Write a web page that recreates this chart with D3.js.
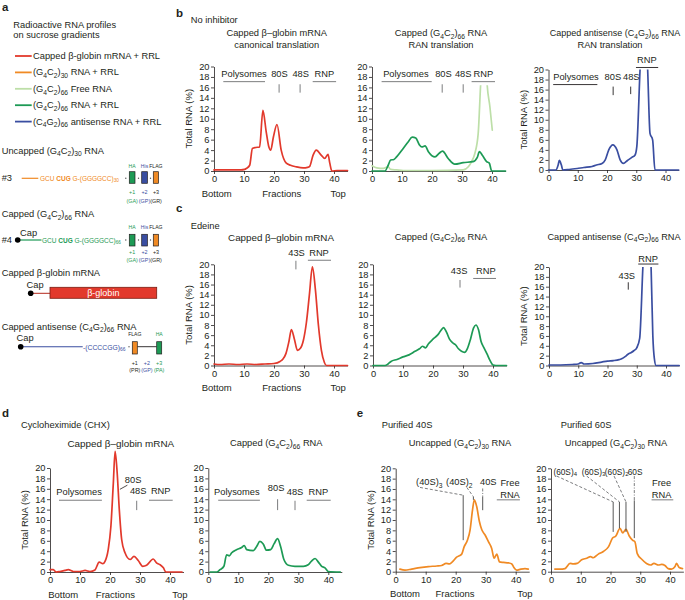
<!DOCTYPE html>
<html><head><meta charset="utf-8">
<script src="https://cdn.jsdelivr.net/npm/d3@7"></script>
<style>
body{margin:0;background:#fff}
svg{display:block}
text{font-family:"Liberation Sans",Arial,Helvetica,sans-serif}
</style>
</head><body>
<svg id="fig" width="685" height="600"></svg>
<script>
// ---------------- DATA ----------------
const xTicks = [0, 10, 20, 30, 40];
const yTicks = [0, 2, 4, 6, 8, 10, 12, 14, 16, 18, 20];
const X_MAX = 44.5;

const legendLabels = ["Capped β-globin mRNA + RRL", "(G_{4}C_{2})_{30} RNA + RRL", "(G_{4}C_{2})_{66} Free RNA", "(G_{4}C_{2})_{66} RNA + RRL", "(C_{4}G_{2})_{66} antisense RNA + RRL"];

// b: no inhibitor  [fraction, % total RNA]
const noInhGlobin = [[0,0.2],[3,0.2],[6,0.2],[9,0.2],[10.2,0.3],[10.8,0.5],[11.9,1.1],[12.8,4.3],[13.9,4.5],[15.2,4.6],[16.3,11.6],[17.4,7.5],[18.2,4.8],[18.9,4.0],[19.8,6.5],[21,8.9],[22.4,4.0],[24.1,1.5],[25.5,1.1],[27.4,0.8],[29.7,0.6],[31.2,0.7],[31.9,0.9],[33,3.0],[34.1,4.0],[35.8,3.0],[36.9,2.4],[38,3.2],[38.6,1.5],[39.3,0],[41,0.1],[44.5,0.1]];
const noInhG4C2 = [[0,0],[4.3,0],[5.4,1.1],[6.2,2.1],[7.3,2.2],[8.2,2.7],[10.4,4.3],[12.1,5.6],[13.4,6.5],[14.6,6.3],[15.8,5.0],[16.6,4.6],[17.7,4.8],[18.8,3.7],[21,2.7],[22.4,3.4],[23.5,3.8],[25.4,2.4],[27.6,1.3],[30.4,1.6],[33.7,1.8],[35.1,2.6],[35.8,3.7],[36.9,2.9],[38.2,1.8],[39.1,1.5],[39.9,0],[44.5,0]];
const noInhFree = [[0,1.0],[1.6,0.6],[3.8,0.5],[5.4,0.8],[6.2,0.3],[8.2,0.2],[10.4,0.1],[20,0.1],[30.4,0.2],[32.1,0.8],[33.2,1.8],[34.3,3.4],[35.4,7.2],[36.2,16.4],[37,24],[37.7,24],[38.4,16.4],[39.3,12.3],[40.1,7.8]];
const noInhAntisense = [[0,0],[2.5,0],[3.3,1.0],[3.7,1.9],[4.4,1.0],[4.9,0],[7,0.1],[9.8,0.3],[12.1,0.5],[14.9,0.7],[16.4,1.0],[18.3,1.3],[19.4,2.0],[20.6,4.0],[22,5.0],[23.4,4.0],[24.5,2.0],[25.6,1.3],[27,1.9],[28.5,2.5],[29.6,3.0],[30.2,4.7],[31.3,20],[32.2,30],[33.1,30],[33.9,20],[34.7,7.3],[35.6,6.0],[36.4,0],[44.5,0]];

// c: edeine
const edeGlobin = [[0,0.3],[2,0.2],[5,0.3],[8,0.2],[11,0.3],[14,0.2],[17,0.3],[20,0.4],[22,0.8],[23,1.3],[24,2.4],[25,4.8],[25.8,7.1],[26.8,5.2],[27.8,3.0],[28.8,3.4],[29.8,5.0],[30.8,8.5],[31.8,14],[32.8,19.5],[33.8,15],[34.8,8],[35.8,3],[36.8,0.6],[37.5,0],[44.5,0]];
const edeG4C2 = [[0,0],[4,0],[5,0.3],[6,0.8],[8,1.2],[10,1.7],[12,2.1],[14,2.8],[15.5,3.3],[16.5,3.8],[17.5,3.5],[18.5,4.3],[20,5.2],[21.5,6.0],[22.5,6.8],[23.5,7.5],[24.5,6.6],[25.5,5.2],[26.5,4.5],[27.5,4.1],[28.5,3.3],[29.5,2.8],[30.5,2.6],[31.5,3.4],[32.5,5.2],[33.5,7.4],[34.3,8.0],[35.2,7.0],[36,4.8],[37,3.5],[38,2.3],[39,1.0],[40,0.1],[41,0],[44.5,0]];
const edeAntisense = [[0,0.1],[4,0.1],[8,0.2],[10,0.3],[11,0.6],[12,0.3],[15,0.4],[18,0.7],[20,0.9],[22,1.0],[24,1.2],[25,1.4],[26,1.8],[27,2.3],[28,2.6],[29,3.0],[30,3.6],[31,5.5],[32.1,20],[33,30],[34,30],[34.9,20],[35.5,6],[36,1.5],[36.6,0],[44.5,0]];

// d: cycloheximide
const chxGlobin = [[0,0.45],[1.1,0.45],[2,0],[3.3,0.1],[5,0.3],[6.1,0.45],[7.8,0.1],[10,0.1],[11.7,0.3],[13.3,0.1],[15,0.4],[16.4,1.9],[17.6,1.6],[18.3,2.0],[19.4,4.3],[20.3,8.8],[21.1,17],[21.7,23.2],[22.4,19],[23.1,12],[23.9,6.2],[25,3.7],[26.7,2.4],[28,3.0],[29.4,2.2],[30.9,1.1],[32.2,1.3],[34.4,2.5],[35.6,1.7],[36.7,1.4],[37.8,0.8],[38.6,0],[44,0]];
const chxG4C2 = [[0.6,0],[2.8,0],[3.9,0.45],[5.2,1.1],[6.1,3.3],[7,3.1],[7.8,3.7],[9.4,4.3],[11.1,4.7],[12,5.1],[12.8,4.3],[15,4.1],[16.1,4.9],[17.2,5.9],[18.3,5.4],[19.4,4.2],[20.8,4.3],[21.9,5.4],[23.1,6.4],[24.1,4.9],[25.2,2.4],[26.7,1.3],[28.9,1.1],[31.7,1.1],[33.3,1.4],[34.4,2.1],[35.6,2.6],[36.7,1.9],[37.8,1.1],[38.9,0.8],[40,0.1],[44,0]];

// e: purified subunits
const purified40S = [[1.4,0.5],[3.1,0.3],[5.3,0.5],[8.1,0.8],[10.9,1.0],[13.7,1.1],[15.3,1.2],[16.8,1.6],[17.9,1.5],[18.7,1.8],[20.3,2.8],[22,3.4],[22.8,4.8],[23.9,6.1],[24.8,8.1],[25.6,11.9],[26.2,13.9],[27,12.6],[27.9,9.7],[28.7,8.1],[29.8,7.1],[30.9,5.8],[32,4.5],[32.8,2.6],[33.7,3.4],[34.6,1.9],[35.9,1.8],[37.6,1.7],[38.7,1.5],[39.4,0.8],[40.3,0.3],[41.7,0.5],[43.1,0.6],[44.2,0.5]];
const purified60S = [[1.3,0.5],[3,0.5],[4.7,0.6],[6.4,1.6],[7.5,1.5],[8.8,1.6],[10.3,2.3],[12,2.6],[13.3,2.9],[14.2,2.7],[15.9,3.4],[17.6,3.9],[19.3,4.8],[20.7,6.5],[21.8,6.9],[23.2,8.4],[24.1,7.5],[25.2,8.2],[26.3,6.9],[27.4,6.1],[28.2,5.8],[29,3.5],[30.5,2.4],[32.1,1.6],[33.5,1.3],[34.6,1.6],[36.1,1.3],[37.2,1.4],[38.3,1.2],[39.4,0.6],[40.5,0.5],[41.7,1.0],[42.2,1.6],[43.1,0.8],[44.2,0.6]];

// ---------------- STYLE ----------------
const RED = "#e2392c", ORANGE = "#f08a24", LGREEN = "#bddfa8", GREEN = "#1d9a55", BLUE = "#3a4ea1";
const INK = "#231f20", GREY = "#6d6e71";
const legendColors = [RED, ORANGE, LGREEN, GREEN, BLUE];

const svg = d3.select("#fig");
svg.append("rect").attr("width", 685).attr("height", 600).attr("fill", "#fff");

function rich(t, str, size) {
  const k = size * 0.3;
  const parts = str.split(/(_\{[^}]*\}|\*\{[^}]*\})/).filter(s => s.length);
  let off = 0;
  parts.forEach(p => {
    const ts = t.append("tspan");
    if (p.startsWith("_{")) {
      ts.text(p.slice(2, -1)).attr("font-size", size * 0.72);
      if (off !== k) { ts.attr("dy", k - off); off = k; }
    } else {
      if (p.startsWith("*{")) { ts.attr("font-weight", "bold"); p = p.slice(2, -1); }
      ts.text(p);
      if (off !== 0) { ts.attr("dy", -off); off = 0; }
    }
  });
}
function txt(g, x, y, str, o = {}) {
  const size = o.size || 9.3;
  const t = g.append("text").attr("x", x).attr("y", y).attr("font-size", size)
    .attr("text-anchor", o.anchor || "start").attr("dominant-baseline", "central")
    .attr("fill", o.fill || INK);
  if (o.bold) t.attr("font-weight", "bold");
  if (o.rotate) t.attr("transform", `rotate(${o.rotate},${x},${y})`);
  rich(t, str, size);
  return t;
}
function seg(g, x1, y1, x2, y2, color, w, dash) {
  const l = g.append("line").attr("x1", x1).attr("y1", y1).attr("x2", x2).attr("y2", y2)
    .attr("stroke", color).attr("stroke-width", w);
  if (dash) l.attr("stroke-dasharray", dash);
  return l;
}

// ---------------- PANEL a ----------------
const A = svg.append("g");
txt(A, 2, 7, "a", {size: 11.5, bold: true});
txt(A, 13.3, 25, "Radioactive RNA profiles");
txt(A, 13.3, 34.5, "on sucrose gradients");
legendLabels.forEach((lab, i) => {
  const yy = 56 + i * 16.4;
  seg(A, 15, yy, 31.7, yy, legendColors[i], 1.8);
  txt(A, 33, yy, lab, {size: 9.3});
});

function tagBoxes(g, top, boxY, boxH, items) {
  items.forEach(it => {
    g.append("rect").attr("x", it.x).attr("y", boxY).attr("width", it.w).attr("height", boxH)
      .attr("fill", it.fill).attr("stroke", INK).attr("stroke-width", 0.7);
    const cx = it.x + it.w / 2;
    txt(g, cx, top, it.tag, {size: 5.1, anchor: "middle", fill: it.tagColor});
  });
}
function frameLabels(g, y1, y2, items) {
  items.forEach(it => {
    txt(g, it.cx, y1, it.plus, {size: 5.4, anchor: "middle", fill: it.c});
    txt(g, it.cx, y2, it.aa, {size: 5.4, anchor: "middle", fill: it.c});
  });
}
function dots(g, y, xs) { xs.forEach(x => g.append("circle").attr("cx", x).attr("cy", y).attr("r", 0.7).attr("fill", "#555")); }

// construct #3
txt(A, 1.7, 150.7, "Uncapped (G_{4}C_{2})_{30} RNA");
txt(A, 1.7, 178.3, "#3");
seg(A, 21.7, 178.3, 38.3, 178.3, ORANGE, 1.2);
txt(A, 40, 178.3, "GCU *{CUG} G-(GGGGCC)_{30}", {size: 6.5, fill: ORANGE});
dots(A, 178.3, [125.8, 138.5, 150.5]);
tagBoxes(A, 166, 171.7, 11.6, [
  {x: 129.3, w: 5.7, fill: GREEN, tag: "HA", tagColor: GREEN},
  {x: 141.7, w: 5.7, fill: BLUE, tag: "His", tagColor: BLUE},
  {x: 153.3, w: 5.2, fill: ORANGE, tag: "FLAG", tagColor: INK}]);
frameLabels(A, 191.7, 201, [
  {cx: 132.2, plus: "+1", aa: "(GA)", c: GREEN},
  {cx: 144.5, plus: "+2", aa: "(GP)", c: BLUE},
  {cx: 156, plus: "+3", aa: "(GR)", c: INK}]);

// construct #4
txt(A, 1.7, 214, "Capped (G_{4}C_{2})_{66} RNA");
txt(A, 1.7, 240, "#4");
txt(A, 20, 232.7, "Cap");
seg(A, 17.7, 240, 41.5, 240, GREEN, 1.2);
A.append("circle").attr("cx", 17.7).attr("cy", 240).attr("r", 2.8).attr("fill", "#000");
txt(A, 42, 240, "GCU *{CUG} G-(GGGGCC)_{66}", {size: 6.5, fill: GREEN});
dots(A, 240, [125.8, 138.5, 150.5]);
tagBoxes(A, 227.3, 234.3, 11.7, [
  {x: 129.3, w: 5.7, fill: GREEN, tag: "HA", tagColor: GREEN},
  {x: 141.7, w: 5.7, fill: BLUE, tag: "His", tagColor: BLUE},
  {x: 153.3, w: 5.2, fill: ORANGE, tag: "FLAG", tagColor: INK}]);
frameLabels(A, 251.7, 260, [
  {cx: 132.2, plus: "+1", aa: "(GA)", c: GREEN},
  {cx: 144.5, plus: "+2", aa: "(GP)", c: BLUE},
  {cx: 156, plus: "+3", aa: "(GR)", c: INK}]);

// beta-globin
txt(A, 1.7, 273.3, "Capped β-globin mRNA");
txt(A, 26.5, 284.5, "Cap");
seg(A, 30.7, 293.3, 50, 293.3, "#b5281c", 1);
A.append("circle").attr("cx", 30.7).attr("cy", 293.3).attr("r", 2.8).attr("fill", "#000");
A.append("rect").attr("x", 50).attr("y", 287.3).attr("width", 106.7).attr("height", 11)
  .attr("fill", RED).attr("stroke", "#7a1d12").attr("stroke-width", 0.8);
txt(A, 103.3, 293.3, "β-globin", {size: 9, anchor: "middle", fill: "#fff"});

// antisense
txt(A, 1.7, 326.7, "Capped antisense (C_{4}G_{2})_{66} RNA");
txt(A, 16.5, 338.3, "Cap");
seg(A, 20.7, 346.7, 82.7, 346.7, BLUE, 1.1);
A.append("circle").attr("cx", 20.7).attr("cy", 346.7).attr("r", 2.8).attr("fill", "#000");
txt(A, 83, 346.7, "-(CCCCGG)_{66}", {size: 6.8, fill: BLUE});
dots(A, 346.7, [129]);
seg(A, 137.3, 346.7, 156.7, 346.7, INK, 0.9);
tagBoxes(A, 334, 341.7, 12.3, [
  {x: 132.3, w: 5, fill: ORANGE, tag: "FLAG", tagColor: INK},
  {x: 156.7, w: 5, fill: GREEN, tag: "HA", tagColor: GREEN}]);
frameLabels(A, 362.7, 369.7, [
  {cx: 134.8, plus: "+1", aa: "(PR)", c: INK},
  {cx: 146.9, plus: "+2", aa: "(GP)", c: BLUE},
  {cx: 159.2, plus: "+3", aa: "(PA)", c: GREEN}]);

// ---------------- PROFILE PANELS ----------------
let clipCount = 0;
function panel(cfg) {
  const g = svg.append("g");
  const x = d3.scaleLinear().domain([0, 40]).range([cfg.x0, cfg.x40]);
  const xEnd = x(X_MAX);
  x.domain([0, X_MAX]).range([cfg.x0, xEnd]);
  const y = d3.scaleLinear().domain([0, 20]).range([cfg.y0, cfg.y20]);

  const xa = g.append("g").attr("transform", `translate(0,${cfg.y0})`)
    .call(d3.axisBottom(x).tickValues(xTicks).tickSize(3).tickSizeOuter(0).tickPadding(1.5));
  const ya = g.append("g").attr("transform", `translate(${cfg.x0},0)`)
    .call(d3.axisLeft(y).tickValues(yTicks).tickSize(3).tickSizeOuter(0).tickPadding(1.5));
  [xa, ya].forEach(a => {
    a.attr("font-family", '"Liberation Sans",Arial,sans-serif').attr("font-size", 9.3);
    a.selectAll("path,line").attr("stroke", INK).attr("stroke-width", 0.8);
    a.selectAll("text").attr("fill", INK);
  });

  if (cfg.yLabel) txt(g, cfg.x0 - 26, (cfg.y0 + cfg.y20) / 2, "Total RNA (%)", {size: 9.5, anchor: "middle", rotate: -90});
  if (cfg.xLabels) {
    const yy = cfg.y0 + 21.5;
    txt(g, x(cfg.xLabels[0]), yy, "Bottom", {anchor: "middle", size: 9.5});
    txt(g, x(cfg.xLabels[1]), yy, "Fractions", {anchor: "middle", size: 9.5});
    txt(g, x(cfg.xLabels[2]), yy, "Top", {anchor: "middle", size: 9.5});
  }

  const line = d3.line().x(d => x(d[0])).y(d => y(d[1])).curve(d3.curveMonotoneX);
  cfg.series.forEach(s => {
    const p = g.append("path").datum(s.data).attr("fill", "none").attr("stroke", s.color)
      .attr("stroke-width", 1.7).attr("stroke-linejoin", "round").attr("stroke-linecap", "round")
      .attr("d", line);
    if (s.clip != null) {
      const id = "clip" + (clipCount++);
      svg.append("clipPath").attr("id", id).append("rect")
        .attr("x", x(0) - 5).attr("y", y(s.clip)).attr("width", xEnd - x(0) + 10)
        .attr("height", y(0) - y(s.clip) + 5);
      p.attr("clip-path", `url(#${id})`);
    }
  });

  (cfg.notes || []).forEach(n => {
    if (n.text) {
      txt(g, x(n.f), y(n.v), n.text, {size: n.size || 9.3, anchor: n.anchor || "middle"});
    } else {
      const pl = g.append("path").attr("fill", "none").attr("stroke", n.color || GREY)
        .attr("stroke-width", n.w || 0.9)
        .attr("d", d3.line().x(d => x(d[0])).y(d => y(d[1]))(n.pts));
      if (n.dash) pl.attr("stroke-dasharray", n.dash);
    }
  });
  return g;
}

// panel headers
const H = svg.append("g");
txt(H, 176, 13.3, "b", {size: 11.5, bold: true});
txt(H, 190.7, 20, "No inhibitor");
txt(H, 276.7, 33.3, "Capped β–globin mRNA", {anchor: "middle"});
txt(H, 276.7, 45, "canonical translation", {anchor: "middle"});
txt(H, 441, 33.3, "Capped (G_{4}C_{2})_{66} RNA", {anchor: "middle"});
txt(H, 441, 45, "RAN translation", {anchor: "middle"});
txt(H, 615, 33.3, "Capped antisense (C_{4}G_{2})_{66} RNA", {anchor: "middle", size: 9});
txt(H, 610, 45, "RAN translation", {anchor: "middle"});

txt(H, 176, 207.5, "c", {size: 11.5, bold: true});
txt(H, 190.7, 226, "Edeine");
txt(H, 281, 236.5, "Capped β–globin mRNA", {anchor: "middle", size: 9.8});
txt(H, 441, 236.5, "Capped (G_{4}C_{2})_{66} RNA", {anchor: "middle"});
txt(H, 614, 236.5, "Capped antisense (C_{4}G_{2})_{66} RNA", {anchor: "middle", size: 9.2});

txt(H, 2, 413, "d", {size: 11.5, bold: true});
txt(H, 21, 425, "Cycloheximide (CHX)");
txt(H, 120.8, 443, "Capped β–globin mRNA", {anchor: "middle", size: 9.9});
txt(H, 276.3, 443, "Capped (G_{4}C_{2})_{66} RNA", {anchor: "middle"});

txt(H, 356.7, 413, "e", {size: 11.5, bold: true});
txt(H, 381.7, 425, "Purified 40S");
txt(H, 460, 443, "Uncapped (G_{4}C_{2})_{30} RNA", {anchor: "middle"});
txt(H, 560.7, 425, "Purified 60S");
txt(H, 616, 443, "Uncapped (G_{4}C_{2})_{30} RNA", {anchor: "middle"});

// ---- b ----
panel({x0: 214, x40: 334, y0: 171, y20: 66.5, yLabel: true, xLabels: [0.9, 22.6, 41.4],
  series: [{data: noInhGlobin, color: RED}],
  notes: [
    {text: "Polysomes", f: 10, v: 18.6}, {pts: [[3.1, 17.1], [17, 17.1]]},
    {text: "80S", f: 21.8, v: 18.6}, {pts: [[21.7, 16.6], [21.7, 15]]},
    {text: "48S", f: 28.9, v: 18.6}, {pts: [[28.7, 16.6], [28.7, 15]]},
    {text: "RNP", f: 36.8, v: 18.6}, {pts: [[32.9, 17.1], [40.7, 17.1]]}]});
panel({x0: 372, x40: 492, y0: 171, y20: 66.5,
  series: [{data: noInhFree, color: LGREEN, clip: 16.4}, {data: noInhG4C2, color: GREEN}],
  notes: [
    {text: "Polysomes", f: 11.3, v: 18.6}, {pts: [[3.2, 17.1], [19.9, 17.1]]},
    {text: "80S", f: 23.8, v: 18.6}, {pts: [[23.4, 16.6], [23.4, 15]]},
    {text: "48S", f: 30.4, v: 18.6}, {pts: [[30.4, 16.6], [30.4, 15]]},
    {text: "RNP", f: 37.1, v: 18.6}, {pts: [[33.2, 17.1], [41, 17.1]]}]});
panel({x0: 548.5, x40: 665.5, y0: 170, y20: 69.5, yLabel: true,
  series: [{data: noInhAntisense, color: BLUE, clip: 20}],
  notes: [
    {text: "RNP", f: 33.6, v: 21.8}, {pts: [[29.9, 20.4], [37.5, 20.4]], color: INK},
    {text: "Polysomes", f: 9.4, v: 18.5}, {pts: [[1.6, 17], [16.7, 17]], color: INK},
    {text: "80S", f: 22, v: 18.5}, {pts: [[22.1, 16.6], [22.1, 14.9]], color: INK},
    {text: "48S", f: 28.3, v: 18.5}, {pts: [[28.1, 16.6], [28.1, 15.1]], color: INK}]});

// ---- c ----
panel({x0: 214, x40: 334, y0: 365.5, y20: 264.3, yLabel: true, xLabels: [0.9, 22.6, 41.4],
  series: [{data: edeGlobin, color: RED}],
  notes: [
    {text: "43S", f: 27.5, v: 22.3}, {pts: [[27.3, 20.7], [27.3, 19]]},
    {text: "RNP", f: 35, v: 22.3}, {pts: [[31.3, 20.8], [39, 20.8]]}]});
panel({x0: 373, x40: 493, y0: 365.5, y20: 264.3,
  series: [{data: edeG4C2, color: GREEN}],
  notes: [
    {text: "43S", f: 28.7, v: 18.7}, {pts: [[29, 16.9], [29, 15.4]]},
    {text: "RNP", f: 37.6, v: 18.7}, {pts: [[33.4, 17.2], [41, 17.2]]}]});
panel({x0: 549, x40: 666, y0: 365.5, y20: 267, yLabel: true,
  series: [{data: edeAntisense, color: BLUE, clip: 20}],
  notes: [
    {text: "RNP", f: 33.9, v: 21.7}, {pts: [[30.5, 20.6], [37.4, 20.6]], color: INK},
    {text: "43S", f: 26.6, v: 18.1}, {pts: [[27.1, 16.9], [27.1, 15.4]], color: INK}]});

// ---- d ----
panel({x0: 50, x40: 170, y0: 572, y20: 468, yLabel: true, xLabels: [4.4, 21.8, 43.3],
  series: [{data: chxGlobin, color: RED}],
  notes: [
    {text: "Polysomes", f: 9.7, v: 15.4}, {pts: [[3, 13.8], [17.3, 13.8]]},
    {text: "80S", f: 27.7, v: 17.7}, {pts: [[25.8, 16.7], [23.3, 15.9]], color: INK, w: 0.8},
    {text: "48S", f: 29.4, v: 15.5}, {pts: [[28.9, 13.7], [28.9, 11.9]]},
    {text: "RNP", f: 36.9, v: 15.5}, {pts: [[33, 13.8], [40.9, 13.8]]}]});
panel({x0: 208.3, x40: 328.3, y0: 572, y20: 468,
  series: [{data: chxG4C2, color: GREEN}],
  notes: [
    {text: "Polysomes", f: 9.5, v: 15.4}, {pts: [[3.3, 13.8], [17.2, 13.8]]},
    {text: "80S", f: 22.6, v: 16.1}, {pts: [[23.1, 14], [23.1, 11.9]]},
    {text: "48S", f: 28.9, v: 15.4}, {pts: [[28.9, 13.7], [28.9, 11.9]]},
    {text: "RNP", f: 36.7, v: 15.4}, {pts: [[32.8, 13.8], [40.8, 13.8]]}]});

// ---- e ----
panel({x0: 395.7, x40: 515.7, y0: 571.7, y20: 468.3, yLabel: true, xLabels: [3.1, 19.8, 43.1],
  series: [{data: purified40S, color: ORANGE}],
  notes: [
    {text: "(40S)_{3}", f: 6.8, v: 17.4, anchor: "start"},
    {text: "(40S)_{2}", f: 16.8, v: 17.4, anchor: "start"},
    {text: "40S", f: 28.1, v: 17.4, anchor: "start"},
    {pts: [[8.1, 16.3], [22.5, 14.8]], dash: "3,2"}, {pts: [[22.5, 14.8], [22.5, 6.1]], color: "#444"},
    {pts: [[23.7, 16.3], [25.9, 14.5]], dash: "3,2"}, {pts: [[25.9, 14.5], [25.9, 13.9]], color: "#444"},
    {pts: [[29, 16.1], [29, 14.5]], dash: "3,1.5,1,1.5"}, {pts: [[29, 14.5], [29, 11.9]], color: "#444"},
    {text: "Free", f: 38.1, v: 17.1}, {text: "RNA", f: 38.1, v: 14.8},
    {pts: [[33.7, 13.9], [41.4, 13.9]]}]});
panel({x0: 551, x40: 670, y0: 571.7, y20: 468.3,
  series: [{data: purified60S, color: ORANGE}],
  notes: [
    {text: "(60S)_{4}", f: 0.8, v: 19.3, anchor: "start", size: 8.3},
    {text: "(60S)_{3}", f: 10.3, v: 19.3, anchor: "start", size: 8.3},
    {text: "(60S)_{2}", f: 18.1, v: 19.3, anchor: "start", size: 8.3},
    {text: "60S", f: 25.8, v: 19.3, anchor: "start", size: 8.3},
    {pts: [[1.9, 18.5], [20.9, 13.5]], dash: "3,2"}, {pts: [[20.9, 13.5], [20.9, 7.7]], color: "#444"},
    {pts: [[12, 18.5], [23, 13.5]], dash: "3,2"}, {pts: [[23, 13.5], [23, 8.4]], color: "#444"},
    {pts: [[21.2, 18.5], [25.2, 13.5]], dash: "3,2"}, {pts: [[25.2, 13.5], [25.2, 7.7]], color: "#444"},
    {pts: [[28, 18.5], [28, 13.8]], dash: "3,1.5,1,1.5"}, {pts: [[28, 13.8], [28, 6.5]], color: "#444"},
    {text: "Free", f: 37.2, v: 17.1}, {text: "RNA", f: 37.2, v: 14.8},
    {pts: [[33.8, 13.9], [41.1, 13.9]]}]});
</script>
</body></html>
